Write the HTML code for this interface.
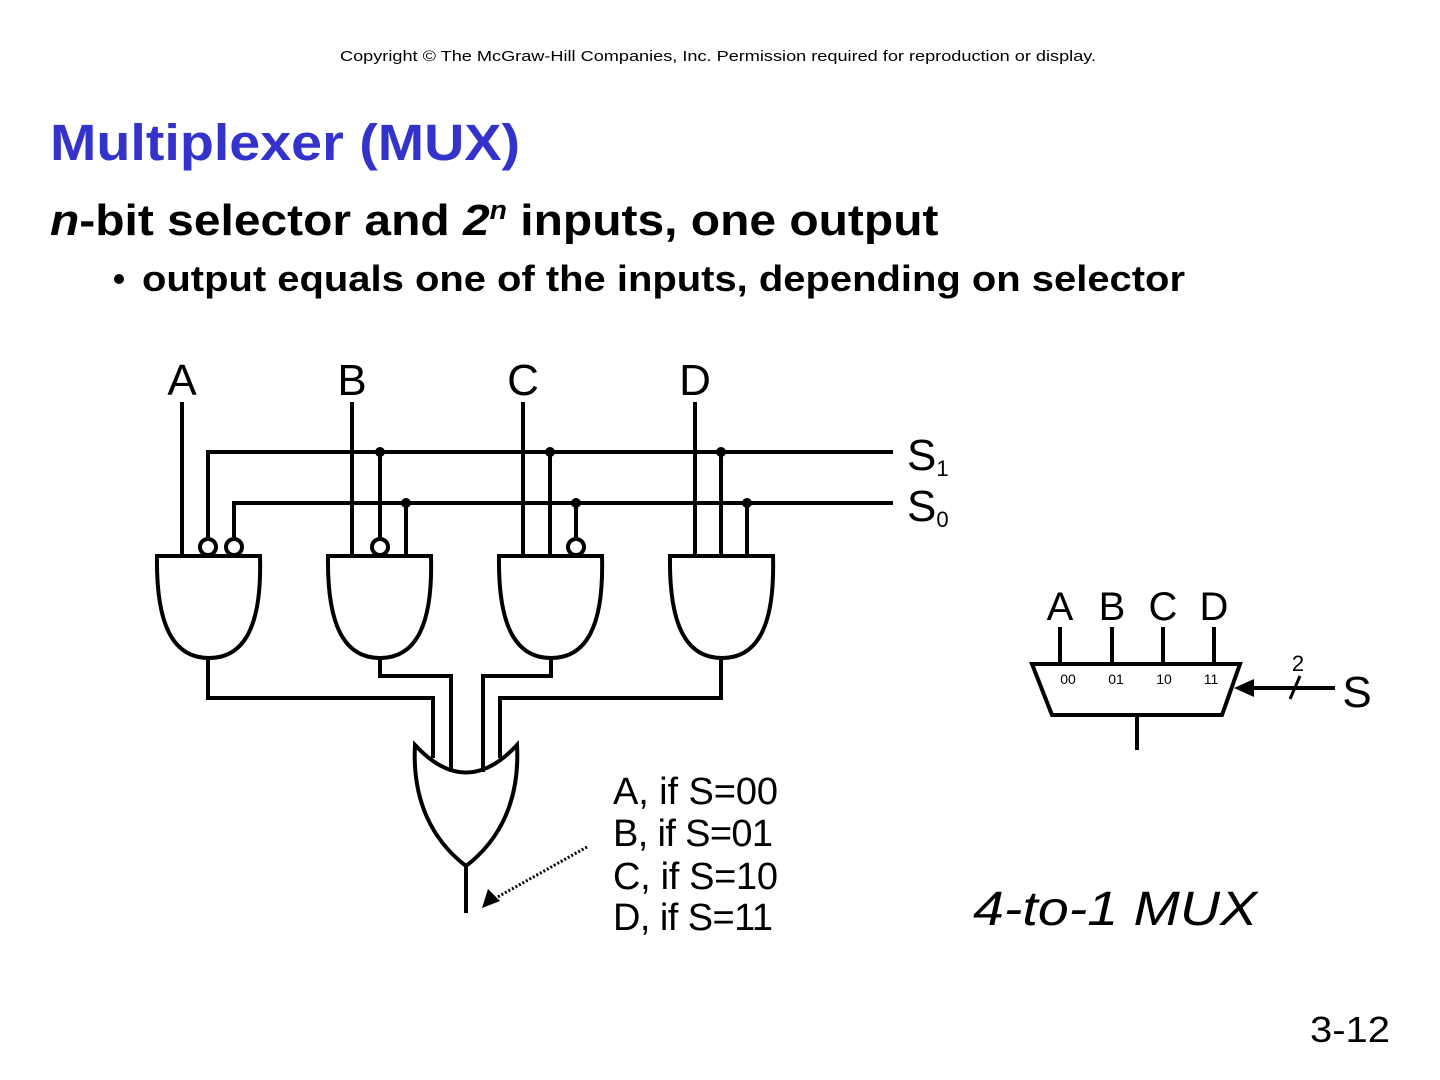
<!DOCTYPE html>
<html><head><meta charset="utf-8"><style>
html,body{margin:0;padding:0;background:#fff;width:1440px;height:1080px;overflow:hidden}
</style></head><body>
<svg width="1440" height="1080" viewBox="0 0 1440 1080" xmlns="http://www.w3.org/2000/svg" font-family="'Liberation Sans', sans-serif">
<text transform="translate(340,61) scale(1.21,1)" font-size="15">Copyright © The McGraw-Hill Companies, Inc.  Permission required for reproduction or display.</text>
<text x="50" y="160" font-size="51" font-weight="bold" fill="#3333cc" textLength="470" lengthAdjust="spacingAndGlyphs">Multiplexer (MUX)</text>
<text transform="translate(50,235) scale(1.09,1)" font-size="44" font-weight="bold"><tspan font-style="italic">n</tspan>-bit selector and <tspan font-style="italic">2</tspan><tspan font-style="italic" font-size="26" dy="-16">n</tspan><tspan dy="16"> inputs, one output</tspan></text>
<circle cx="119" cy="279" r="5" fill="#000"/>
<text x="142" y="291" font-size="36" font-weight="bold" textLength="1043" lengthAdjust="spacingAndGlyphs">output equals one of the inputs, depending on selector</text>

<g fill="none" stroke="#000" stroke-width="4">
<line x1="182" y1="402" x2="182" y2="556"/>
<line x1="352" y1="402" x2="352" y2="556"/>
<line x1="523" y1="402" x2="523" y2="556"/>
<line x1="695" y1="402" x2="695" y2="556"/>
<polyline points="893,452 208,452 208,539"/>
<polyline points="893,503 234,503 234,539"/>
<line x1="380" y1="452" x2="380" y2="539"/>
<line x1="406" y1="503" x2="406" y2="556"/>
<line x1="550" y1="452" x2="550" y2="556"/>
<line x1="576" y1="503" x2="576" y2="539"/>
<line x1="721" y1="452" x2="721" y2="556"/>
<line x1="747" y1="503" x2="747" y2="556"/>
<circle cx="208" cy="547" r="8"/><circle cx="234" cy="547" r="8"/>
<circle cx="380" cy="547" r="8"/><circle cx="576" cy="547" r="8"/>
<path d="M157,556 H260 C262,625 245,658 209,658 C173,658 156,625 157,556 Z"/>
<path d="M328,556 H431 C433,625 416,658 380,658 C344,658 327,625 328,556 Z"/>
<path d="M499,556 H602 C604,625 587,658 551,658 C515,658 498,625 499,556 Z"/>
<path d="M670,556 H773 C775,625 758,658 722,658 C686,658 669,625 670,556 Z"/>
<polyline points="208,658 208,698 433,698 433,758"/>
<polyline points="380,658 380,676 451,676 451,772"/>
<polyline points="551,658 551,676 483,676 483,772"/>
<polyline points="721,658 721,698 500,698 500,758"/>
<path d="M415,745 Q466,800 517,745 C520,800 500,840 466,866 C432,840 412,800 415,745 Z"/>
<line x1="466" y1="866" x2="466" y2="913"/>
<line x1="587" y1="847" x2="494" y2="899" stroke-width="3" stroke-dasharray="2,2"/>
<path d="M1032,664 H1240 L1222,715 H1052 Z"/>
<line x1="1060" y1="627" x2="1060" y2="664"/>
<line x1="1112" y1="627" x2="1112" y2="664"/>
<line x1="1163" y1="627" x2="1163" y2="664"/>
<line x1="1214" y1="627" x2="1214" y2="664"/>
<line x1="1137" y1="715" x2="1137" y2="750"/>
<line x1="1335" y1="688" x2="1250" y2="688"/>
<line x1="1290" y1="699" x2="1300" y2="676" stroke-width="3"/>
</g>
<g fill="#000">
<circle cx="380" cy="452" r="5"/><circle cx="550" cy="452" r="5"/><circle cx="721" cy="452" r="5"/>
<circle cx="406" cy="503" r="5"/><circle cx="576" cy="503" r="5"/><circle cx="747" cy="503" r="5"/>
<polygon points="1234,688 1254,679 1254,697"/>
<polygon points="482,908 488,889 500,901"/>
</g>
<g font-size="44" text-anchor="middle">
<text x="182" y="395">A</text><text x="352" y="395">B</text><text x="523" y="395">C</text><text x="695" y="395">D</text>
</g>
<text x="907" y="470" font-size="44">S<tspan font-size="22" dy="6">1</tspan></text>
<text x="907" y="521" font-size="44">S<tspan font-size="22" dy="6">0</tspan></text>
<g font-size="38">
<text x="613" y="804" textLength="165">A, if S=00</text>
<text x="613" y="846" textLength="160">B, if S=01</text>
<text x="613" y="889" textLength="165">C, if S=10</text>
<text x="613" y="930" textLength="160">D, if S=11</text>
</g>
<g font-size="40" text-anchor="middle">
<text x="1060" y="620">A</text><text x="1112" y="620">B</text><text x="1163" y="620">C</text><text x="1214" y="620">D</text>
</g>
<g font-size="14" text-anchor="middle">
<text x="1068" y="684">00</text><text x="1116" y="684">01</text><text x="1164" y="684">10</text><text x="1211" y="684">11</text>
</g>
<text x="1298" y="671" font-size="22" text-anchor="middle">2</text>
<text x="1357" y="707" font-size="44" text-anchor="middle">S</text>
<text x="973" y="925" font-size="48" font-style="italic" textLength="284" lengthAdjust="spacingAndGlyphs">4-to-1 MUX</text>
<text x="1310" y="1042" font-size="36" textLength="80" lengthAdjust="spacingAndGlyphs">3-12</text>
</svg>
</body></html>
